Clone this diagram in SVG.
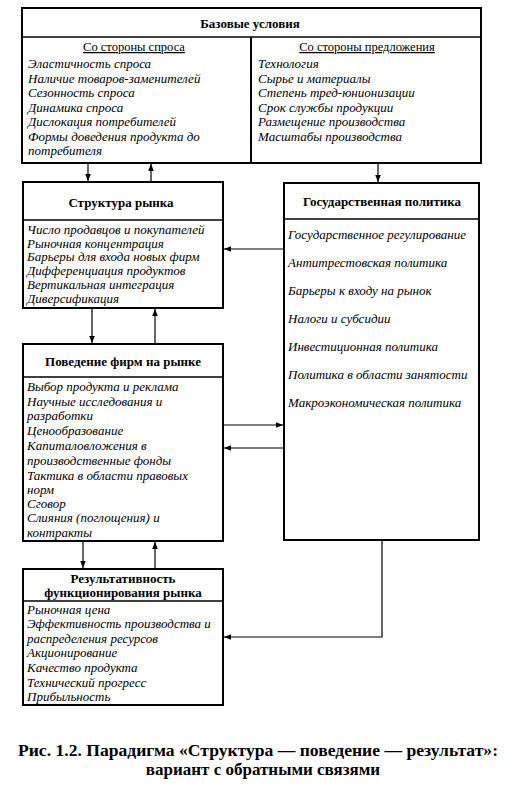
<svg xmlns="http://www.w3.org/2000/svg" width="513" height="789" viewBox="0 0 513 789">
<style>
  .box { fill: #fff; stroke: #000; stroke-width: 2; }
  .div { stroke: #000; stroke-width: 1.6; fill: none; }
  .hd { font-family: 'Liberation Serif', 'DejaVu Serif', serif; font-weight: bold; font-size: 13px; text-anchor: middle; fill: #000; }
  .sub { font-family: 'Liberation Serif', 'DejaVu Serif', serif; font-size: 12.5px; text-anchor: middle; text-decoration: underline; fill: #000; }
  .it { font-family: 'Liberation Serif', 'DejaVu Serif', serif; font-style: italic; font-size: 13px; fill: #000; }
  .cap { font-family: 'Liberation Serif', 'DejaVu Serif', serif; font-weight: bold; font-size: 17px; text-anchor: middle; fill: #000; }
  .con { stroke: #000; stroke-width: 1.2; fill: none; marker-end: url(#ah); }
</style>
<defs>
  <marker id="ah" viewBox="0 0 10 10" refX="10" refY="5" markerWidth="7" markerHeight="7" markerUnits="userSpaceOnUse" orient="auto">
    <path d="M0,1 L10,5 L0,9 Z" fill="#000"/>
  </marker>
</defs>
<rect width="513" height="789" fill="#fff"/>

<g id="base">
  <rect class="box" x="22" y="8" width="459" height="155"/>
  <line class="div" x1="22" y1="37" x2="481" y2="37"/>
  <line class="div" x1="251" y1="37" x2="251" y2="163" style="stroke-width:2"/>
  <text class="hd" x="250" y="28">Базовые условия</text>
  <text class="sub" x="134" y="51">Со стороны спроса</text>
  <text class="sub" x="367" y="51">Со стороны предложения</text>
  <text class="it" x="28" y="68">Эластичность спроса</text>
  <text class="it" x="28" y="82.5">Наличие товаров-заменителей</text>
  <text class="it" x="28" y="97">Сезонность спроса</text>
  <text class="it" x="28" y="111.5">Динамика спроса</text>
  <text class="it" x="28" y="126">Дислокация потребителей</text>
  <text class="it" x="28" y="140.5">Формы доведения продукта до</text>
  <text class="it" x="28" y="155">потребителя</text>
  <text class="it" x="258" y="68">Технология</text>
  <text class="it" x="258" y="82.5">Сырье и материалы</text>
  <text class="it" x="258" y="97">Степень тред-юнионизации</text>
  <text class="it" x="258" y="111.5">Срок службы продукции</text>
  <text class="it" x="258" y="126">Размещение производства</text>
  <text class="it" x="258" y="140.5">Масштабы производства</text>
</g>

<g id="structure">
  <rect class="box" x="23" y="182" width="200" height="126"/>
  <line class="div" x1="23" y1="220" x2="223" y2="220"/>
  <text class="hd" x="121" y="207">Структура рынка</text>
  <text class="it" x="27" y="234">Число продавцов и покупателей</text>
  <text class="it" x="27" y="247.5">Рыночная концентрация</text>
  <text class="it" x="27" y="261">Барьеры для входа новых фирм</text>
  <text class="it" x="27" y="275">Дифференциация продуктов</text>
  <text class="it" x="27" y="289">Вертикальная интеграция</text>
  <text class="it" x="27" y="303">Диверсификация</text>
</g>

<g id="policy">
  <rect class="box" x="284" y="183" width="195" height="357"/>
  <line class="div" x1="284" y1="219" x2="479" y2="219"/>
  <text class="hd" x="382" y="206">Государственная политика</text>
  <text class="it" x="288" y="239">Государственное регулирование</text>
  <text class="it" x="288" y="267">Антитрестовская политика</text>
  <text class="it" x="288" y="295">Барьеры к входу на рынок</text>
  <text class="it" x="288" y="323">Налоги и субсидии</text>
  <text class="it" x="288" y="351">Инвестиционная политика</text>
  <text class="it" x="288" y="379">Политика в области занятости</text>
  <text class="it" x="288" y="407">Макроэкономическая политика</text>
</g>

<g id="conduct">
  <rect class="box" x="23" y="344" width="200" height="197"/>
  <line class="div" x1="23" y1="377" x2="223" y2="377"/>
  <text class="hd" x="123" y="366">Поведение фирм на рынке</text>
  <text class="it" x="27" y="391">Выбор продукта и реклама</text>
  <text class="it" x="27" y="405.5">Научные исследования и</text>
  <text class="it" x="27" y="420">разработки</text>
  <text class="it" x="27" y="435">Ценообразование</text>
  <text class="it" x="27" y="450">Капиталовложения в</text>
  <text class="it" x="27" y="465">производственные фонды</text>
  <text class="it" x="27" y="480">Тактика в области правовых</text>
  <text class="it" x="27" y="494">норм</text>
  <text class="it" x="27" y="508">Сговор</text>
  <text class="it" x="27" y="522">Слияния (поглощения) и</text>
  <text class="it" x="27" y="537">контракты</text>
</g>

<g id="performance">
  <rect class="box" x="23" y="569" width="200" height="136"/>
  <line class="div" x1="23" y1="601" x2="223" y2="601"/>
  <text class="hd" x="123" y="583">Результативность</text>
  <text class="hd" x="123" y="597">функционирования рынка</text>
  <text class="it" x="27" y="614">Рыночная цена</text>
  <text class="it" x="27" y="628">Эффективность производства и</text>
  <text class="it" x="27" y="643">распределения ресурсов</text>
  <text class="it" x="27" y="657">Акционирование</text>
  <text class="it" x="27" y="672">Качество продукта</text>
  <text class="it" x="27" y="687">Технический прогресс</text>
  <text class="it" x="27" y="701">Прибыльность</text>
</g>

<g id="connectors">
  <line class="con" x1="88" y1="164" x2="88" y2="181"/>
  <line class="con" x1="151" y1="181" x2="151" y2="164"/>
  <line class="con" x1="378" y1="164" x2="378" y2="182"/>
  <line class="con" x1="283" y1="249" x2="224" y2="249"/>
  <line class="con" x1="92" y1="309" x2="92" y2="343"/>
  <line class="con" x1="155" y1="343" x2="155" y2="309"/>
  <line class="con" x1="224" y1="425" x2="283" y2="425"/>
  <line class="con" x1="283" y1="448" x2="224" y2="448"/>
  <line class="con" x1="83" y1="542" x2="83" y2="568"/>
  <line class="con" x1="155" y1="568" x2="155" y2="542"/>
  <polyline class="con" points="382,541 382,637 224,637"/>
</g>

<g id="caption">
  <text class="cap" x="258" y="756" textLength="480" lengthAdjust="spacingAndGlyphs">Рис. 1.2. Парадигма «Структура — поведение — результат»:</text>
  <text class="cap" x="263" y="775">вариант с обратными связями</text>
</g>
</svg>
